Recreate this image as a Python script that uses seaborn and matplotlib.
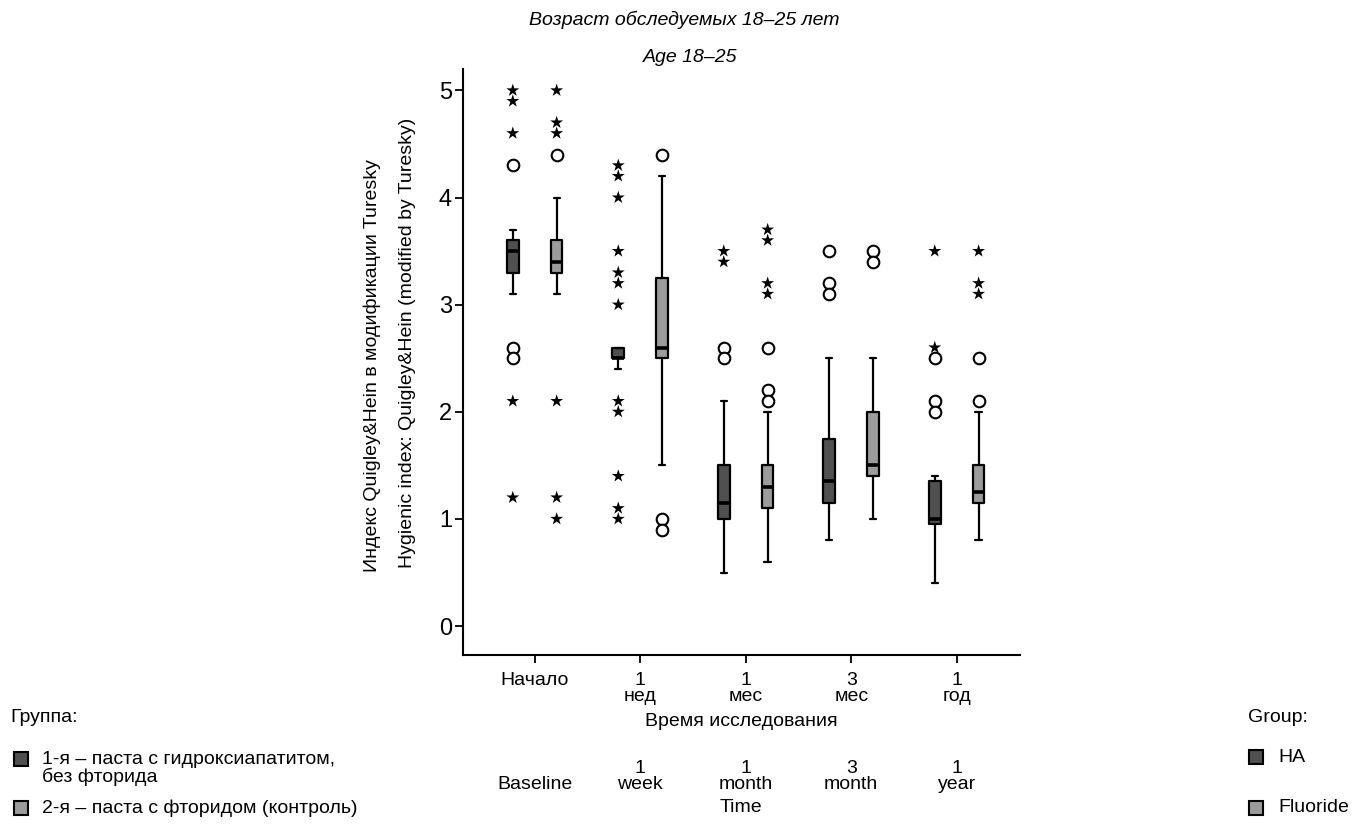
import numpy as np
import pandas as pd
import matplotlib
matplotlib.use("Agg")
import matplotlib.pyplot as plt
from matplotlib.patches import Rectangle
import seaborn as sns

# %%
# values (SPSS-style boxplot: o = outlier, * = extreme)
times_ru = ["Начало", "1\nнед", "1\nмес", "3\nмес", "1\nгод"]
times_en = ["Baseline", "1\nweek", "1\nmonth", "3\nmonth", "1\nyear"]
groups = ["HA", "Fluoride"]

ha_med = [3.50, 2.50, 1.15, 1.35, 1.00]
ha_q1 = [3.30, 2.50, 1.00, 1.15, 0.95]
ha_q3 = [3.60, 2.60, 1.50, 1.75, 1.35]
ha_lo = [3.10, 2.40, 0.50, 0.80, 0.40]
ha_hi = [3.70, 2.60, 2.10, 2.50, 1.40]
ha_out = [[4.3, 2.6, 2.5], [], [2.6, 2.5], [3.5, 3.2, 3.1], [2.5, 2.1, 2.0]]
ha_ext = [[5.0, 4.9, 4.6, 2.1, 1.2],
          [4.3, 4.2, 4.0, 3.5, 3.3, 3.2, 3.0, 2.1, 2.0, 1.4, 1.1, 1.0],
          [3.5, 3.4], [], [3.5, 2.6]]

fl_med = [3.40, 2.60, 1.30, 1.50, 1.25]
fl_q1 = [3.30, 2.50, 1.10, 1.40, 1.15]
fl_q3 = [3.60, 3.25, 1.50, 2.00, 1.50]
fl_lo = [3.10, 1.50, 0.60, 1.00, 0.80]
fl_hi = [4.00, 4.20, 2.00, 2.50, 2.00]
fl_out = [[4.4], [4.4, 1.0, 0.9], [2.6, 2.2, 2.1], [3.5, 3.4], [2.5, 2.1]]
fl_ext = [[5.0, 4.7, 4.6, 2.1, 1.2, 1.0], [], [3.7, 3.6, 3.2, 3.1], [],
          [3.5, 3.2, 3.1]]

group_colors = {"HA": "#505050", "Fluoride": "#9c9c9c"}
dodge = {"HA": -0.208, "Fluoride": 0.208}

# %%
sns.set_theme(style="ticks")
plt.rcParams['font.family'] = ['Liberation Sans', 'DejaVu Sans']
plt.rcParams.update({"text.color": "black", "axes.labelcolor": "black",
                     "xtick.color": "black", "ytick.color": "black"})

fig = plt.figure(figsize=(13.68, 8.26), dpi=100)
ax = fig.add_axes([463 / 1368, 1 - 655 / 826, (1020 - 463) / 1368, (655 - 69) / 826])

series = {
    "HA": (ha_med, ha_q1, ha_q3, ha_lo, ha_hi, ha_out, ha_ext),
    "Fluoride": (fl_med, fl_q1, fl_q3, fl_lo, fl_hi, fl_out, fl_ext),
}

rows = []
for g in groups:
    med, q1, q3, lo, hi, out, ext = series[g]
    stats = []
    for i in range(len(times_ru)):
        stats.append(dict(med=med[i], q1=q1[i], q3=q3[i], whislo=lo[i],
                          whishi=hi[i], fliers=[]))
        for v in out[i]:
            rows.append(dict(pos=i + dodge[g], value=v, kind="outlier"))
        for v in ext[i]:
            rows.append(dict(pos=i + dodge[g], value=v, kind="extreme"))
    pos = np.arange(len(times_ru)) + dodge[g]
    ax.bxp(stats, positions=pos, widths=0.11, capwidths=0.06, patch_artist=True,
           showfliers=False, manage_ticks=False,
           boxprops=dict(facecolor=group_colors[g], edgecolor="black",
                         linewidth=1.6, joinstyle="round"),
           medianprops=dict(color="black", linewidth=2.6, solid_capstyle="butt"),
           whiskerprops=dict(color="black", linewidth=1.6),
           capprops=dict(color="black", linewidth=1.6))

points = pd.DataFrame(rows)
sns.scatterplot(data=points[points.kind == "outlier"], x="pos", y="value",
                marker="o", s=70, facecolor="white", edgecolor="black",
                linewidth=1.5, ax=ax, legend=False, zorder=3)
sns.scatterplot(data=points[points.kind == "extreme"], x="pos", y="value",
                marker="*", s=95, color="black", edgecolor="none",
                ax=ax, legend=False, zorder=3)

ax.set_xlim(-0.68, 4.60)
ax.set_ylim(-0.27, 5.2)
ax.set_yticks(range(0, 6))
ax.set_xticks(range(len(times_ru)))
ax.set_xticklabels(times_ru, fontsize=14, va="top", linespacing=0.95)
ax.tick_params(axis="y", labelsize=17, length=6, width=1.3, pad=2, color="black")
ax.tick_params(axis="x", length=6, width=1.3, pad=6, color="black")
for side in ["left", "bottom"]:
    ax.spines[side].set_linewidth(1.5)
    ax.spines[side].set_color("black")
sns.despine(ax=ax)
ax.set_xlabel("")
ax.set_ylabel("")

# english tick row and axis titles
trans = matplotlib.transforms.blended_transform_factory(ax.transData, fig.transFigure)
for i, lab in enumerate(times_en):
    ax.text(i, 1 - 793 / 826, lab, transform=trans, ha="center", va="bottom",
            fontsize=14, linespacing=0.95)
fig.text(741 / 1368, 1 - 722 / 826, "Время исследования", ha="center", va="center", fontsize=14)
fig.text(741 / 1368, 1 - 808 / 826, "Time", ha="center", va="center", fontsize=14)

fig.text(372 / 1368, 1 - 366 / 826, "Индекс Quigley&Hein в модификации Turesky",
         rotation=90, ha="center", va="center", fontsize=14)
fig.text(407 / 1368, 1 - 343 / 826, "Hygienic index: Quigley&Hein (modified by Turesky)",
         rotation=90, ha="center", va="center", fontsize=14)

fig.text(684 / 1368, 1 - 20 / 826, "Возраст обследуемых 18–25 лет", style="italic",
         ha="center", va="center", fontsize=14)
fig.text(690 / 1368, 1 - 58 / 826, "Age 18–25", style="italic",
         ha="center", va="center", fontsize=14)

# legends
def legend_square(x, y, color):
    fig.patches.append(Rectangle((x / 1368, 1 - (y + 7) / 826), 14 / 1368, 14 / 826,
                                 transform=fig.transFigure, facecolor=color,
                                 edgecolor="black", linewidth=1.5))

fig.text(10 / 1368, 1 - 717 / 826, "Группа:", ha="left", va="center", fontsize=14)
legend_square(14, 759, group_colors["HA"])
fig.text(42 / 1368, 1 - 751 / 826, "1-я – паста с гидроксиапатитом,\nбез фторида",
         ha="left", va="top", fontsize=14, linespacing=0.95)
legend_square(14, 808, group_colors["Fluoride"])
fig.text(42 / 1368, 1 - 808 / 826, "2-я – паста с фторидом (контроль)",
         ha="left", va="center", fontsize=14)

fig.text(1248 / 1368, 1 - 717 / 826, "Group:", ha="left", va="center", fontsize=14)
legend_square(1249, 757, group_colors["HA"])
fig.text(1278 / 1368, 1 - 757 / 826, "HA", ha="left", va="center", fontsize=14)
legend_square(1249, 808, group_colors["Fluoride"])
fig.text(1278 / 1368, 1 - 808 / 826, "Fluoride", ha="left", va="center", fontsize=14)

fig.savefig("out.png", dpi=100)
